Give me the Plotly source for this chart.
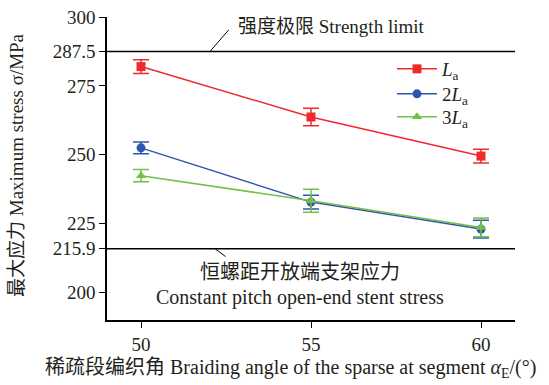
import plotly.graph_objects as go

angles = [50, 55, 60]
series_names = ["<i>L</i><sub>a</sub>", "2<i>L</i><sub>a</sub>", "3<i>L</i><sub>a</sub>"]
stress_La = [282.0, 263.7, 249.5]
stress_2La = [252.5, 232.8, 223.0]
stress_3La = [242.4, 233.3, 223.6]
err_La = [2.5, 3.2, 2.5]
err_2La = [2.1, 2.5, 3.2]
err_3La = [2.2, 4.2, 3.4]
strength_limit = 287.5
open_end_stress = 215.9
ytick_vals = [200, 215.9, 225, 250, 275, 287.5, 300]
ytick_text = ["200", "215.9", "225", "250", "275", "287.5", "300"]
xtick_vals = [50, 55, 60]

FONT = "Liberation Serif, Noto Sans CJK SC, serif"
TXT = "#231F20"
FS = 19
colors = ["#EE2A2E", "#2F56AE", "#72C045"]
symbols = ["square", "circle", "triangle-up"]
legend_ids = ["legend", "legend2", "legend3"]
legend_rows = [69, 94, 117]

L, R, T, B = 107, 34, 17, 65
W, H = 549, 385
PW, PH = W - L - R, H - T - B

fig = go.Figure()
for name, ys, es, c, s, lg in zip(series_names, [stress_La, stress_2La, stress_3La],
                                  [err_La, err_2La, err_3La], colors, symbols, legend_ids):
    fig.add_trace(go.Scatter(
        x=angles, y=ys, name=name, mode="lines+markers", legend=lg,
        line=dict(color=c, width=1.5),
        marker=dict(symbol=s, size=9, color=c),
        error_y=dict(type="data", array=es, visible=True, color=c, thickness=1.5, width=8),
    ))

for yv in [strength_limit, open_end_stress]:
    fig.add_shape(type="line", xref="paper", x0=0, x1=1, yref="y", y0=yv, y1=yv,
                  line=dict(color="black", width=1.5))

# leader lines
fig.add_annotation(x=(210 - L) / PW, y=strength_limit, xref="paper", yref="y",
                   ax=20, ay=-23, showarrow=True, arrowhead=0, arrowwidth=1,
                   arrowcolor="black", text="")
fig.add_annotation(x=(215 - L) / PW, y=open_end_stress, xref="paper", yref="y",
                   ax=12, ay=9, showarrow=True, arrowhead=0, arrowwidth=1,
                   arrowcolor="black", text="")
fig.add_annotation(x=(236 - L) / PW, y=strength_limit, xref="paper", yref="y", yshift=25,
                   text="强度极限 Strength limit", showarrow=False, xanchor="left",
                   font=dict(family=FONT, size=FS, color=TXT))
fig.add_annotation(x=(300 - L) / PW, y=open_end_stress, xref="paper", yref="y", yshift=-23,
                   text="恒螺距开放端支架应力", showarrow=False, xanchor="center",
                   font=dict(family=FONT, size=20, color=TXT))
fig.add_annotation(x=(300 - L) / PW, y=open_end_stress, xref="paper", yref="y", yshift=-49,
                   text="Constant pitch open-end stent stress", showarrow=False,
                   xanchor="center", font=dict(family=FONT, size=20, color=TXT))

# axis titles
fig.add_annotation(x=(290 - L) / PW, y=-(368 - (T + PH)) / PH, xref="paper", yref="paper",
                   text="稀疏段编织角 Braiding angle of the sparse at segment <i>α</i><sub>E</sub>/(°)",
                   showarrow=False, xanchor="center", yanchor="middle",
                   font=dict(family=FONT, size=20, color=TXT))
fig.add_annotation(x=-(L - 16) / PW, y=(T + PH - 165) / PH, xref="paper", yref="paper",
                   text="最大应力 Maximum stress σ/MPa", textangle=-90,
                   showarrow=False, xanchor="center", yanchor="middle",
                   font=dict(family=FONT, size=FS, color=TXT))

legend_style = dict(xanchor="left", yanchor="middle", bgcolor="rgba(0,0,0,0)",
                    font=dict(family=FONT, size=FS, color=TXT), itemwidth=40)
legend_layout = {}
for lg, yc in zip(legend_ids, legend_rows):
    legend_layout[lg] = dict(x=(392 - L) / PW, y=(T + PH - yc) / PH, **legend_style)

fig.update_layout(
    width=W, height=H,
    margin=dict(l=L, r=R, t=T, b=B, autoexpand=False),
    plot_bgcolor="white", paper_bgcolor="white",
    font=dict(family=FONT, size=FS, color=TXT),
    showlegend=True,
    xaxis=dict(range=[49, 61], tickvals=xtick_vals, ticks="outside", ticklen=6,
               tickcolor="black", showline=True, linecolor="black", linewidth=1.5,
               showgrid=False, zeroline=False, mirror=False, automargin=False,
               tickfont=dict(family=FONT, size=FS, color=TXT)),
    yaxis=dict(range=[190, 300], tickvals=ytick_vals, ticktext=ytick_text,
               ticks="outside", ticklen=6, tickcolor="black", showline=True,
               linecolor="black", linewidth=1.5, showgrid=False, zeroline=False,
               automargin=False, tickfont=dict(family=FONT, size=FS, color=TXT)),
    **legend_layout,
)

fig.write_html("out.html", config={"displayModeBar": False},
               post_script="document.body.style.margin='0';document.body.style.overflow='hidden';")
